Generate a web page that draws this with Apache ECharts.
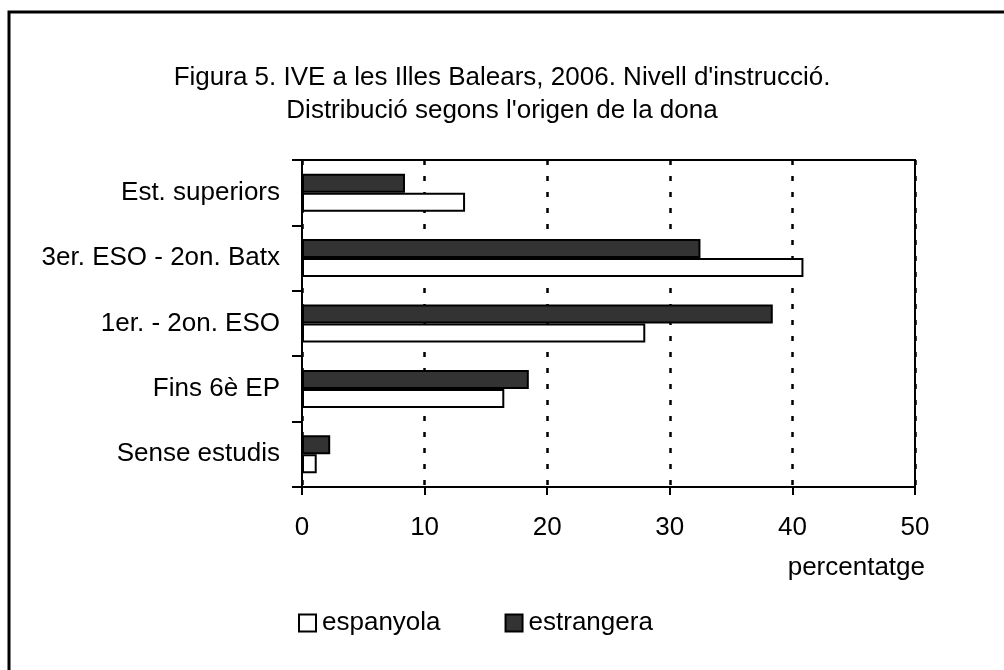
<!DOCTYPE html>
<html>
<head>
<meta charset="utf-8">
<title>Figura 5. IVE a les Illes Balears, 2006</title>
<script src="https://cdn.jsdelivr.net/npm/echarts@6/dist/echarts.min.js"></script>
<style>
  html, body { margin: 0; padding: 0; background: #fff; }
  #chart { width: 1004px; height: 670px; }
</style>
</head>
<body>
<div id="chart"></div>
<script>
// categories, from bottom to top of the axis
var categories = ['Sense estudis', 'Fins 6è EP', '1er. - 2on. ESO', '3er. ESO - 2on. Batx', 'Est. superiors'];
// percentatge per origen
var espanyola = [1.2, 16.5, 28.0, 40.9, 13.3];
var estrangera = [2.3, 18.5, 38.4, 32.5, 8.4];
var xTicks = [0, 10, 20, 30, 40, 50];

var font = '"Liberation Sans", Arial, Helvetica, sans-serif';
var fs = 26;

var myChart = echarts.init(document.getElementById('chart'));
myChart.setOption({
    animation: false,
    textStyle: { fontFamily: font, color: '#000' },
    title: {
        text: "Figura 5. IVE a les Illes Balears, 2006. Nivell d'instrucció.\nDistribució segons l'origen de la dona",
        left: 'center',
        top: 56,
        textStyle: { fontFamily: font, fontSize: fs, fontWeight: 'normal', color: '#000', lineHeight: 33 }
    },
    // marc exterior
    graphic: [{
        type: 'rect',
        shape: { x: 9, y: 12, width: 1010, height: 680 },
        style: { fill: 'none', stroke: '#000', lineWidth: 3 },
        silent: true
    }],
    legend: {
        left: 293,
        top: 605,
        icon: 'rect',
        itemWidth: 17,
        itemHeight: 17,
        itemGap: 64,
        data: ['espanyola', 'estrangera'],
        textStyle: { fontFamily: font, fontSize: fs, color: '#000', padding: [0, 0, 0, 1] }
    },
    grid: {
        left: 302,
        right: 89,
        top: 160,
        bottom: 183,
        show: true,
        borderColor: '#000',
        borderWidth: 2,
        backgroundColor: '#fff'
    },
    xAxis: {
        type: 'value',
        min: xTicks[0],
        max: xTicks[xTicks.length - 1],
        interval: 10,
        name: 'percentatge',
        nameLocation: 'end',
        nameGap: 10,
        nameTextStyle: { fontFamily: font, fontSize: fs, color: '#000', align: 'right', verticalAlign: 'top', padding: [68, 0, 0, 0] },
        axisLine: { show: true, lineStyle: { color: '#000', width: 2 } },
        axisTick: { show: true, length: 8, lineStyle: { color: '#000', width: 2 } },
        axisLabel: { fontFamily: font, fontSize: fs, color: '#000', margin: 28 },
        splitLine: { show: true, lineStyle: { color: '#000', width: 2.5, type: [5, 11] } }
    },
    yAxis: {
        type: 'category',
        data: categories,
        axisLine: { show: true, lineStyle: { color: '#000', width: 2 } },
        axisTick: { show: true, length: 10, lineStyle: { color: '#000', width: 2 } },
        axisLabel: { fontFamily: font, fontSize: fs, color: '#000', margin: 22 },
        splitLine: { show: false }
    },
    // estrangera first so it sits above espanyola in each band
    series: [
        {
            name: 'estrangera',
            type: 'bar',
            data: estrangera,
            barWidth: 19,
            barGap: '0%',
            itemStyle: { color: '#333', borderColor: '#000', borderWidth: 2 }
        },
        {
            name: 'espanyola',
            type: 'bar',
            data: espanyola,
            barWidth: 19,
            barGap: '0%',
            itemStyle: { color: '#fff', borderColor: '#000', borderWidth: 2 }
        }
    ]
});
</script>
</body>
</html>
